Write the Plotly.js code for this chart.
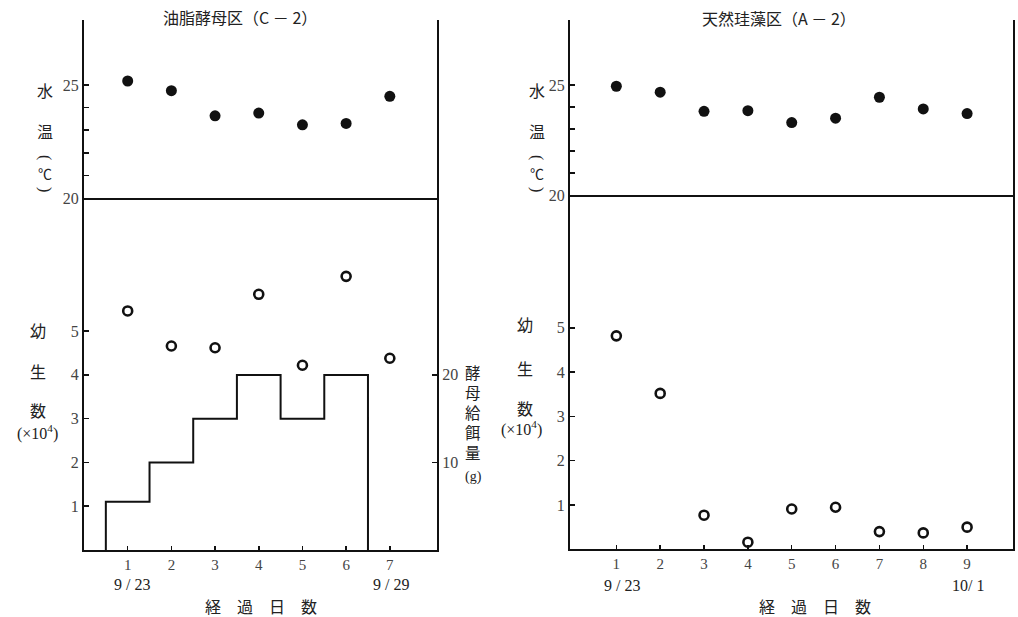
<!DOCTYPE html>
<html>
<head>
<meta charset="utf-8">
<script src="https://cdn.plot.ly/plotly-3.0.1.min.js"></script>
<style>html,body{margin:0;padding:0;background:#fff;}#chart{width:1018px;height:617px;}</style>
</head>
<body>
<div id="chart"></div>
<script>
// ---- data ----
const daysC = [1, 2, 3, 4, 5, 6, 7];
const tempC = [25.18, 24.75, 23.64, 23.76, 23.24, 23.3, 24.5];
const larvaeC = [5.46, 4.66, 4.62, 5.84, 4.22, 6.25, 4.38];
const feedDays = [1, 2, 3, 4, 5, 6];
const feedGrams = [5.5, 10, 15, 20, 15, 20];

const daysA = [1, 2, 3, 4, 5, 6, 7, 8, 9];
const tempA = [24.94, 24.67, 23.8, 23.83, 23.29, 23.49, 24.44, 23.91, 23.7];
const larvaeA = [4.82, 3.52, 0.77, 0.16, 0.91, 0.95, 0.40, 0.37, 0.50];

const tempTicks = [20, 25];
const tempMinorTicks = [21, 22, 23, 24];
const countTicks = [1, 2, 3, 4, 5];
const feedTicks = [10, 20];

// ---- layout helpers ----
const W = 1018, H = 617;
const px = v => v / W;
const py = v => 1 - v / H;
const FONT = 'Liberation Serif, DejaVu Serif, Noto Sans CJK JP, serif';
const CJK = 'Noto Sans CJK JP, sans-serif';
const TICKC = '#444';

// step line built from per-day feed amounts
const stepX = [feedDays[0] - 0.5].concat(feedDays.map(d => d - 0.5)).concat([feedDays[feedDays.length - 1] + 0.5]);
const stepY = [0].concat(feedGrams).concat([0]);

const filled = {color: '#111', size: 11};
const open = {symbol: 'circle-open', color: '#111', size: 9, line: {width: 2.6, color: '#111'}};

const traces = [
  {x: daysC, y: tempC, xaxis: 'x2', yaxis: 'y', mode: 'markers', marker: filled, cliponaxis: false},
  {x: daysC, y: larvaeC, xaxis: 'x', yaxis: 'y2', mode: 'markers', marker: open, cliponaxis: false},
  {x: stepX, y: stepY, xaxis: 'x', yaxis: 'y3', mode: 'lines', line: {shape: 'hv', color: '#111', width: 2}},
  {x: daysA, y: tempA, xaxis: 'x4', yaxis: 'y4', mode: 'markers', marker: filled, cliponaxis: false},
  {x: daysA, y: larvaeA, xaxis: 'x3', yaxis: 'y5', mode: 'markers', marker: open, cliponaxis: false}
];

const base = {showgrid: false, zeroline: false, showline: true, linecolor: '#111', linewidth: 2,
  ticks: 'inside', ticklen: 5, tickwidth: 1.5, tickcolor: '#111',
  tickfont: {family: FONT, size: 16, color: TICKC}, fixedrange: true};

const minorTemp = {tickvals: tempMinorTicks, ticks: 'inside', ticklen: 5, tickwidth: 1.5, tickcolor: '#111', showgrid: false};

const LX = [px(84), px(437)], RX = [px(570), px(1012.7)];
const xTickFont = {family: FONT, size: 15, color: TICKC};

const layout = {
  width: W, height: H, margin: {l: 0, r: 0, t: 0, b: 0},
  paper_bgcolor: '#fff', plot_bgcolor: 'rgba(0,0,0,0)', showlegend: false,
  font: {family: FONT, color: '#222'},
  xaxis: Object.assign({}, base, {domain: LX, anchor: 'y2', range: [0, 8.08], tickvals: daysC, ticklen: 4, tickfont: xTickFont}),
  xaxis2: Object.assign({}, base, {domain: LX, anchor: 'y', range: [0, 8.08], ticks: '', showticklabels: false}),
  yaxis: Object.assign({}, base, {domain: [py(198), py(20)], anchor: 'x2', range: [20, 27.88], tickvals: tempTicks, minor: minorTemp, mirror: true}),
  yaxis2: Object.assign({}, base, {domain: [py(550), py(198)], anchor: 'x', range: [0, 8.04], tickvals: countTicks}),
  yaxis3: Object.assign({}, base, {overlaying: 'y2', side: 'right', anchor: 'x', range: [0, 40.2], tickvals: feedTicks}),
  xaxis3: Object.assign({}, base, {domain: RX, anchor: 'y5', range: [-0.057, 10.04], tickvals: daysA, ticklen: 4, tickfont: xTickFont}),
  xaxis4: Object.assign({}, base, {domain: RX, anchor: 'y4', range: [-0.057, 10.04], ticks: '', showticklabels: false}),
  yaxis4: Object.assign({}, base, {domain: [py(195), py(20)], anchor: 'x4', range: [20, 27.95], tickvals: tempTicks, minor: minorTemp, mirror: true}),
  yaxis5: Object.assign({}, base, {domain: [py(549.3), py(195)], anchor: 'x3', range: [0, 8.0], tickvals: countTicks, mirror: true}),
  annotations: []
};

function ann(text, x, y, size, family, angle) {
  layout.annotations.push({text: text, x: px(x), y: py(y), xref: 'paper', yref: 'paper',
    xanchor: 'center', yanchor: 'middle', showarrow: false, textangle: angle || 0,
    font: {family: family || FONT, size: size || 16, color: '#222'}});
}

function tempLabel(x) {
  ann('水', x, 90, 16, CJK);
  ann('温', x, 131, 16, CJK);
  ann('(', x, 157, 16, FONT, 90);
  ann('℃', x, 173, 14, CJK);
  ann(')', x, 189, 16, FONT, 90);
}

// titles
ann('油脂酵母区（C － 2）', 240, 17, 16, CJK);
ann('天然珪藻区（A － 2）', 779, 18, 16, CJK);

// left panel labels
tempLabel(45);
ann('幼', 38, 330, 16, CJK);
ann('生', 38, 371, 16, CJK);
ann('数', 38, 410, 16, CJK);
ann('(×10<sup>4</sup>)', 37, 433, 16);
ann('酵<br>母<br>給<br>餌<br>量', 473, 412, 15.4, CJK);
ann('(g)', 473, 477, 14);
ann('9 / 23', 132, 584, 16);
ann('9 / 29', 391, 584, 16);
ann('経　過　日　数', 261, 606, 16, CJK);

// right panel labels
tempLabel(537);
ann('幼', 525, 324, 16, CJK);
ann('生', 525, 368, 16, CJK);
ann('数', 525, 408, 16, CJK);
ann('(×10<sup>4</sup>)', 521, 428, 16);
ann('9 / 23', 622, 585, 16);
ann('10/ 1', 968, 585, 16);
ann('経　過　日　数', 815, 606, 16, CJK);

Plotly.newPlot('chart', traces, layout, {staticPlot: true, displayModeBar: false});
</script>
</body>
</html>
